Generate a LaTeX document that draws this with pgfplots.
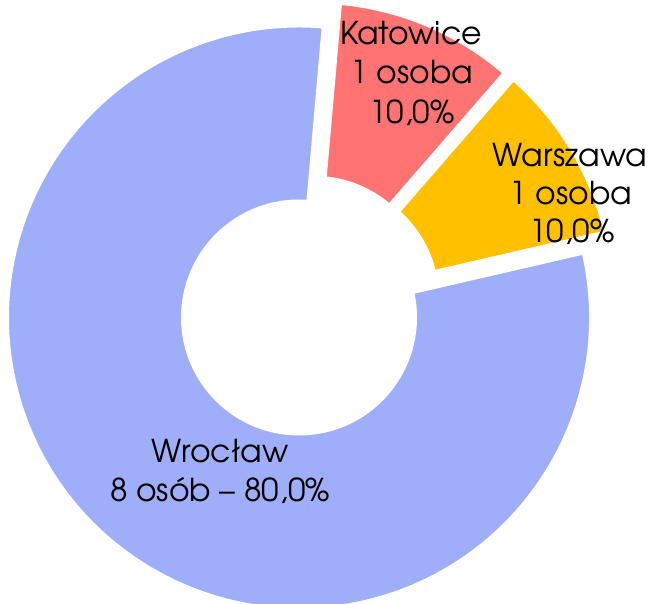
\documentclass[border=0pt]{standalone}
\usepackage{fontspec}
\setmainfont{texgyreadventor-regular.otf}
\usepackage{pgfplots}
\pgfplotsset{compat=1.18}
\usepackage{pgfplotstable}
\definecolor{cKat}{HTML}{FF7373}
\definecolor{cWar}{HTML}{FFC000}
\definecolor{cWro}{HTML}{9FAEF8}

% value = number of people; dx, dy = explosion offset of the slice (pt)
\pgfplotstableread{
city value dx dy
Katowice 1 14.8 23.7
Warszawa 1 22.2 18.6
Wroclaw 8 0 0
}\slices

\begin{document}
\begin{tikzpicture}
\pgfplotstablegetelem{0}{value}\of\slices \let\vK\pgfplotsretval
\pgfplotstablegetelem{1}{value}\of\slices \let\vW\pgfplotsretval
\pgfplotstablegetelem{2}{value}\of\slices \let\vR\pgfplotsretval
\pgfplotstablegetelem{0}{dx}\of\slices \let\dxK\pgfplotsretval
\pgfplotstablegetelem{0}{dy}\of\slices \let\dyK\pgfplotsretval
\pgfplotstablegetelem{1}{dx}\of\slices \let\dxW\pgfplotsretval
\pgfplotstablegetelem{1}{dy}\of\slices \let\dyW\pgfplotsretval
\pgfmathsetmacro\total{\vK+\vW+\vR}
\pgfmathsetmacro\aStart{90-5}
\pgfmathsetmacro\aKW{\aStart-360*\vK/\total}
\pgfmathsetmacro\aWR{\aKW-360*\vW/\total}
\pgfmathsetmacro\aEnd{\aStart-360}
\def\cx{299}\def\cy{286.5}
\def\ro{292.75}\def\ri{115.25}
\begin{axis}[scale only axis, width=650pt, height=604pt,
  xmin=0, xmax=650, ymin=0, ymax=604, hide axis]
% Katowice
\path[fill=cKat, draw=white, line width=5.5pt]
  (axis cs:{\cx+\dxK+\ro*cos(\aStart)},{\cy+\dyK+\ro*sin(\aStart)})
  arc[start angle=\aStart, end angle=\aKW, radius=\ro pt]
  -- (axis cs:{\cx+\dxK+\ri*cos(\aKW)},{\cy+\dyK+\ri*sin(\aKW)})
  arc[start angle=\aKW, end angle=\aStart, radius=\ri pt] -- cycle;
% Warszawa
\path[fill=cWar, draw=white, line width=5.5pt]
  (axis cs:{\cx+\dxW+\ro*cos(\aKW)},{\cy+\dyW+\ro*sin(\aKW)})
  arc[start angle=\aKW, end angle=\aWR, radius=\ro pt]
  -- (axis cs:{\cx+\dxW+\ri*cos(\aWR)},{\cy+\dyW+\ri*sin(\aWR)})
  arc[start angle=\aWR, end angle=\aKW, radius=\ri pt] -- cycle;
% Wroclaw
\path[fill=cWro, draw=white, line width=5.5pt]
  (axis cs:{\cx+\ro*cos(\aWR)},{\cy+\ro*sin(\aWR)})
  arc[start angle=\aWR, end angle=\aEnd, radius=\ro pt]
  -- (axis cs:{\cx+\ri*cos(\aEnd)},{\cy+\ri*sin(\aEnd)})
  arc[start angle=\aEnd, end angle=\aWR, radius=\ri pt] -- cycle;
% labels
\tikzset{lab/.style={anchor=base, inner sep=0pt, font=\fontsize{31.5}{38}\selectfont}}
\node[lab] at (axis cs:411,559) {Katowice};
\node[lab] at (axis cs:412,520.7) {1 osoba};
\node[lab] at (axis cs:412,480.7) {10,0\%};
\node[lab] at (axis cs:570,437.3) {Warszawa};
\node[lab] at (axis cs:571,399) {1 osoba};
\node[lab] at (axis cs:572,361) {10,0\%};
\node[lab] at (axis cs:220,141.3) {Wrocław};
\node[lab] at (axis cs:220,102.3) {8 osób – 80,0\%};
\end{axis}
\pgfresetboundingbox
\useasboundingbox (0,0) rectangle (650pt,604pt);
\end{tikzpicture}
\end{document}
